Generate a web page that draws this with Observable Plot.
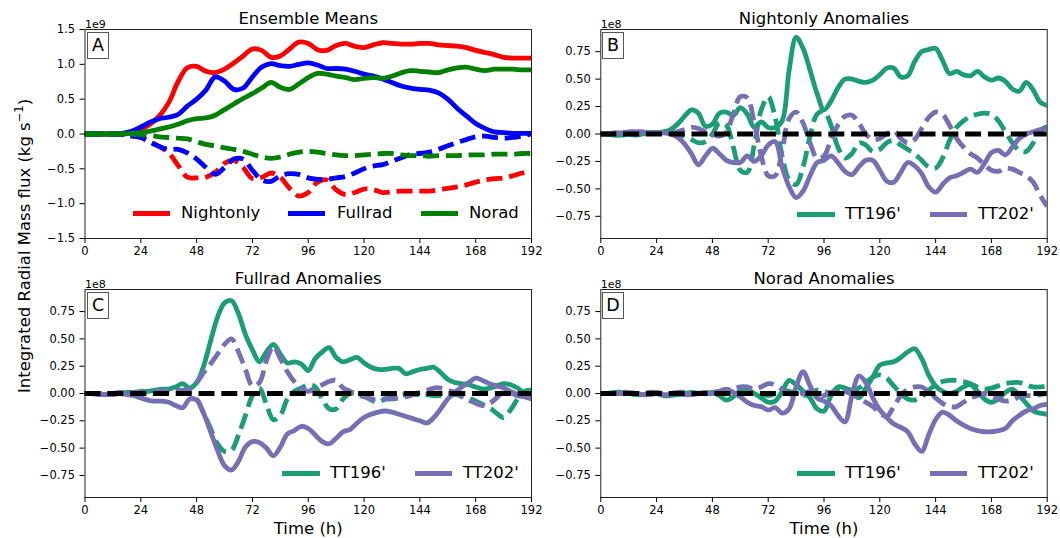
<!DOCTYPE html>
<html><head><meta charset="utf-8">
<script src="https://cdn.jsdelivr.net/npm/d3@7"></script>
<script src="https://cdn.jsdelivr.net/npm/@observablehq/plot@0.6"></script>
<style>
body{margin:0;background:#fff;font-family:"DejaVu Sans",sans-serif;color:#000;}
#fig{position:relative;width:1060px;height:538px;overflow:hidden;background:#fff;}
.box{position:absolute;width:20px;height:25px;border:1px solid #555;background:#fff;font-size:17.5px;line-height:25px;text-align:center;}
.lgline{position:absolute;height:5px;}
.lgtext{position:absolute;font-size:16.5px;line-height:20px;white-space:nowrap;}
#ylab{position:absolute;left:23px;top:246px;transform:translate(-50%,-50%) rotate(-90deg);font-size:16.5px;white-space:nowrap;}
#ylab sup{font-size:11.5px;}
</style></head>
<body><div id="fig"></div>
<script>
// ---------- data ----------
const xTicks = [0, 24, 48, 72, 96, 120, 144, 168, 192];
const ticksA = [-1.5, -1.0, -0.5, 0.0, 0.5, 1.0, 1.5];
const ticksAnom = [-0.75, -0.5, -0.25, 0, 0.25, 0.5, 0.75];

// Panel A (units of 1e9), every 4 h
const hoursA = d3.range(0, 193, 4);
const nightSolid = [0,0,0,0,0,0.02,0.07,0.14, 0.26,0.45,0.75,0.95,0.97,0.90,0.88,0.93, 1.02,1.12,1.22,1.20,1.10,1.12,1.22,1.32, 1.30,1.21,1.20,1.27,1.30,1.26,1.24,1.28, 1.31,1.30,1.29,1.29,1.30,1.30,1.28,1.27, 1.26,1.24,1.20,1.17,1.14,1.10,1.09,1.09, 1.09];
const fullSolid = [0,0,0,0,0.01,0.04,0.10,0.17, 0.22,0.24,0.28,0.40,0.50,0.63,0.82,0.76, 0.64,0.66,0.82,0.96,1.01,0.98,0.97,1.00, 1.02,0.99,0.94,0.94,0.93,0.90,0.86,0.83, 0.79,0.74,0.69,0.66,0.64,0.63,0.59,0.50, 0.37,0.26,0.15,0.08,0.03,0.02,0.01,0.01, 0.01];
const noradSolid = [0,0,0,0,0,0.01,0.02,0.04, 0.07,0.10,0.14,0.19,0.22,0.23,0.27,0.35, 0.43,0.51,0.58,0.66,0.74,0.67,0.64,0.72, 0.81,0.87,0.86,0.83,0.81,0.78,0.80,0.81, 0.80,0.83,0.88,0.91,0.90,0.89,0.88,0.92, 0.95,0.96,0.93,0.91,0.93,0.93,0.93,0.92, 0.92];
const nightDash = [0,0,0,0,-0.01,-0.02,-0.05,-0.11, -0.18,-0.27,-0.45,-0.62,-0.63,-0.62,-0.55,-0.42, -0.38,-0.48,-0.64,-0.62,-0.56,-0.62,-0.78,-0.89, -0.84,-0.69,-0.66,-0.80,-0.87,-0.84,-0.79,-0.80, -0.84,-0.83,-0.82,-0.82,-0.82,-0.82,-0.80,-0.78, -0.76,-0.73,-0.69,-0.66,-0.64,-0.63,-0.60,-0.56, -0.54];
const fullDash = [0,0,0,0,-0.01,-0.03,-0.05,-0.12, -0.18,-0.22,-0.22,-0.27,-0.36,-0.48,-0.58,-0.48, -0.36,-0.36,-0.52,-0.66,-0.68,-0.60,-0.57,-0.58, -0.63,-0.65,-0.65,-0.63,-0.61,-0.56,-0.50,-0.46, -0.44,-0.39,-0.34,-0.29,-0.28,-0.26,-0.22,-0.17, -0.12,-0.08,-0.04,-0.03,-0.05,-0.06,-0.05,-0.03, 0];
const noradDash = [0,0,0,0,0,0,-0.01,-0.02, -0.04,-0.05,-0.06,-0.07,-0.11,-0.15,-0.17,-0.20, -0.22,-0.25,-0.29,-0.33,-0.35,-0.33,-0.29,-0.26, -0.25,-0.26,-0.28,-0.30,-0.31,-0.31,-0.30,-0.29, -0.28,-0.28,-0.30,-0.31,-0.31,-0.32,-0.31,-0.31, -0.31,-0.30,-0.30,-0.30,-0.29,-0.29,-0.29,-0.28, -0.28];

// Anomaly panels (units of 1e8), every 3 h
const hoursB = d3.range(0, 193, 3);
const bGreenSolid = [0,0,-0.01,-0.01,0,-0.01,0,0.01, 0.01,0.02,0.04,0.09,0.16,0.22,0.19,0.07, 0.09,0.19,0.20,0.17,0.24,0.18,0.06,0.11, 0.06,0.06,0.12,0.58,0.88,0.78,0.58,0.37, 0.22,0.30,0.42,0.50,0.50,0.48,0.47,0.49, 0.54,0.60,0.60,0.52,0.53,0.66,0.75,0.77, 0.78,0.67,0.55,0.57,0.54,0.53,0.57,0.52, 0.49,0.51,0.48,0.41,0.39,0.47,0.40,0.29, 0.26];
const bPurpleSolid = [0,0,0.01,0.01,0.02,0.02,0.02,0.01, 0.01,0.01,0,-0.03,-0.09,-0.18,-0.28,-0.20, -0.13,-0.18,-0.24,-0.26,-0.26,-0.20,-0.25,-0.20, -0.10,-0.07,-0.30,-0.48,-0.58,-0.52,-0.38,-0.26, -0.24,-0.20,-0.26,-0.34,-0.37,-0.30,-0.24,-0.24, -0.33,-0.43,-0.44,-0.35,-0.26,-0.29,-0.36,-0.48, -0.53,-0.46,-0.40,-0.38,-0.35,-0.32,-0.35,-0.27, -0.17,-0.15,-0.19,-0.12,-0.04,0.0,0.02,0.04, 0.05];
const bGreenDash = [0,0,0,0,0.01,0.01,0.01,0.01, 0.01,0.01,0.01,0,-0.02,-0.05,-0.08,-0.07, 0.0,0.10,0.08,-0.12,-0.33,-0.35,-0.10,0.22, 0.34,0.15,-0.20,-0.42,-0.46,-0.30,-0.02,0.18, 0.21,0.08,-0.12,-0.22,-0.18,-0.08,-0.10,-0.16, -0.14,-0.08,-0.06,-0.10,-0.14,-0.18,-0.24,-0.30, -0.31,-0.22,-0.06,0.06,0.12,0.16,0.18,0.19, 0.18,0.12,0.02,-0.08,-0.15,-0.16,-0.08,0.03, 0.07];
const bPurpleDash = [0,0,0.01,0.01,0.01,0.01,0.01,0.01, 0.01,0.01,0.01,0.02,0.04,0.06,0.05,0.02, 0.0,-0.02,0.02,0.18,0.34,0.33,0.10,-0.20, -0.38,-0.38,-0.15,0.14,0.20,0.10,-0.08,-0.22, -0.20,-0.05,0.08,0.16,0.17,0.10,0.0,-0.05, -0.04,0.0,0.03,-0.04,-0.08,-0.05,0.05,0.15, 0.20,0.18,0.08,-0.04,-0.12,-0.18,-0.22,-0.28, -0.33,-0.34,-0.31,-0.32,-0.35,-0.38,-0.44,-0.56, -0.66];

const cGreenSolid = [0,0,0,-0.01,0,0,0.01,0.01, 0.02,0.02,0.03,0.04,0.04,0.06,0.09,0.05, 0.10,0.25,0.48,0.70,0.83,0.85,0.73,0.54, 0.40,0.29,0.38,0.45,0.36,0.28,0.29,0.27, 0.21,0.32,0.38,0.42,0.33,0.29,0.31,0.33, 0.28,0.24,0.22,0.22,0.23,0.23,0.18,0.20, 0.22,0.23,0.24,0.19,0.13,0.10,0.09,0.08, 0.06,0.04,0.05,0.07,0.09,0.08,0.05,0.0, -0.02];
const cPurpleSolid = [0,0,-0.01,-0.01,-0.01,0,-0.01,-0.02, -0.04,-0.06,-0.07,-0.07,-0.08,-0.11,-0.13,-0.05, -0.06,-0.18,-0.35,-0.52,-0.66,-0.70,-0.62,-0.49, -0.44,-0.45,-0.50,-0.57,-0.49,-0.37,-0.34,-0.30, -0.32,-0.38,-0.44,-0.46,-0.41,-0.35,-0.33,-0.27, -0.22,-0.19,-0.17,-0.16,-0.17,-0.19,-0.21,-0.23, -0.25,-0.27,-0.22,-0.14,-0.05,0.01,0.06,0.10, 0.14,0.12,0.09,0.07,0.05,0.02,-0.01,-0.03, -0.05];
const cGreenDash = [0,0,0,0,0,0,0,0, 0,0,0.01,0.01,0.01,0.01,0.02,0.0, -0.05,-0.18,-0.32,-0.46,-0.53,-0.52,-0.38,-0.20, -0.02,0.05,-0.10,-0.24,-0.20,-0.05,0.02,0.05, 0.08,0.06,-0.05,-0.14,-0.14,-0.05,0.0,0.0, -0.02,-0.06,-0.08,-0.05,-0.02,-0.02,-0.01,-0.01, -0.01,-0.01,-0.02,-0.02,-0.02,-0.01,-0.02,-0.04, -0.07,-0.10,-0.13,-0.18,-0.22,-0.15,-0.05,0.02, 0.03];
const cPurpleDash = [0,0,0,0,0,0.01,0.01,0.01, 0.01,0.01,0.02,0.02,0.03,0.03,0.03,0.04, 0.10,0.19,0.27,0.36,0.45,0.50,0.38,0.22, 0.07,0.10,0.30,0.43,0.32,0.20,0.11,0.05, 0.02,0.05,0.08,0.11,0.12,0.05,0.02,-0.01, -0.03,-0.05,-0.05,-0.05,-0.05,-0.04,-0.03,-0.01, 0.01,0.03,0.05,0.05,0.03,0.01,-0.03,-0.06, -0.09,-0.11,-0.09,-0.04,0.02,0.01,-0.02,-0.03, -0.04];

const dGreenSolid = [0,0,0.01,0.01,0,-0.01,-0.01,0, 0,-0.02,-0.02,-0.01,0,0.01,0,0, 0.01,-0.02,-0.06,-0.03,0.03,0.02,0,-0.04, -0.08,-0.07,0.02,0.12,0.08,0.02,-0.04,-0.14, -0.16,-0.02,0.06,0.05,0.02,-0.04,0.05,0.15, 0.26,0.28,0.29,0.33,0.38,0.41,0.32,0.17, 0.07,0.02,0.0,0.02,0.06,0.08,0.02,-0.05, -0.08,-0.05,0.01,0.04,-0.02,-0.09,-0.16,-0.18, -0.19];
const dPurpleSolid = [0,0,0,0,0,0,-0.01,-0.01, 0,-0.01,-0.01,0,-0.01,-0.01,0,0, 0,0.02,0.04,0.01,-0.03,-0.08,-0.11,-0.12, -0.15,-0.13,-0.18,-0.14,0.06,0.20,0.07,-0.04, -0.07,-0.11,-0.20,-0.26,-0.02,0.16,0.10,-0.04, -0.15,-0.22,-0.28,-0.31,-0.35,-0.46,-0.53,-0.38, -0.24,-0.17,-0.20,-0.25,-0.29,-0.32,-0.34,-0.35, -0.35,-0.34,-0.32,-0.25,-0.20,-0.16,-0.14,-0.11, -0.10];
const dGreenDash = [0,0,0,0,0,0,0,0, 0,0,0,0,0,0,0,0, 0,0,0,0,0.01,0.02,0.01,0, -0.02,0,0.03,0.02,0,-0.02,0,0.03, 0.02,0,0.02,0.04,0.03,0.05,0.10,0.15, 0.17,0.14,0.07,0.0,-0.05,-0.06,-0.03,0.03, 0.08,0.11,0.12,0.12,0.11,0.09,0.06,0.04, 0.05,0.07,0.09,0.10,0.10,0.08,0.06,0.06, 0.07];
const dPurpleDash = [0,0,0,0.01,0.01,0,0,0.01, 0.01,0,0,0.01,0.01,0,0,0.01, 0.01,0.02,0.03,0.04,0.06,0.06,0.04,0.06, 0.09,0.08,0.04,0.0,-0.02,0.0,0.02,0.0, -0.02,0.01,0.03,0.02,-0.01,-0.04,-0.08,-0.12, -0.18,-0.21,-0.12,-0.02,0.04,0.06,0.06,0.02, -0.04,-0.09,-0.12,-0.12,-0.08,-0.04,-0.02,0.0, -0.02,-0.05,-0.07,-0.06,-0.03,-0.02,-0.02,-0.01, 0.0];

const legendA = ["Nightonly", "Fullrad", "Norad"];
const legendAnom = ["TT196'", "TT202'"];
const titles = ["Ensemble Means", "Nightonly Anomalies", "Fullrad Anomalies", "Norad Anomalies"];
const letters = ["A", "B", "C", "D"];

// ---------- styles ----------
const RED = "#ff0000", BLUE = "#0000ff", GREEN = "#008000", TEAL = "#1b9e77", PURPLE = "#7570b3";
const LW = 4.8;
const DASH = "16,6.8";

function rows(hours, vals) { return hours.map((h, i) => ({h, v: vals[i]})); }

const fig = document.getElementById("fig");

function panel(cfg) {
  const marks = [];
  for (const s of cfg.series) {
    marks.push(Plot.line(rows(cfg.hours, s.vals), {
      x: "h", y: "v", stroke: s.color, strokeWidth: LW,
      strokeDasharray: s.dash ? DASH : null,
      strokeLinecap: s.dash ? "butt" : "square",
      strokeLinejoin: "round",
      curve: "catmull-rom", clip: true
    }));
  }
  if (cfg.zero) marks.push(Plot.ruleY([0], {stroke: "black", strokeWidth: LW, strokeDasharray: DASH}));
  marks.push(Plot.frame({stroke: "#222", strokeWidth: 1}));
  marks.push(Plot.axisX({ticks: xTicks, tickSize: 5, tickPadding: 3, label: null, tickFormat: d3.format("d")}));
  marks.push(Plot.axisY({ticks: cfg.yTicks, tickSize: 5, tickPadding: 5, label: null, tickFormat: d3.format(cfg.fmt)}));
  marks.push(Plot.text([cfg.title], {text: d => d, frameAnchor: "top", dy: -6, lineAnchor: "bottom", fontSize: 16.5}));
  marks.push(Plot.text([cfg.expo], {text: d => d, frameAnchor: "top-left", dy: -2, lineAnchor: "bottom", textAnchor: "start", fontSize: 11}));
  if (cfg.time) marks.push(Plot.text(["Time (h)"], {text: d => d, frameAnchor: "bottom", dy: 36, lineAnchor: "bottom", fontSize: 16.5}));
  const svg = Plot.plot({
    width: cfg.w, height: cfg.h,
    marginLeft: cfg.mL, marginRight: cfg.mR, marginTop: cfg.mT, marginBottom: cfg.mB,
    style: {fontFamily: "DejaVu Sans", fontSize: "11.5px", color: "black", background: "transparent", overflow: "visible"},
    x: {domain: [0, 192]},
    y: {domain: cfg.yDomain},
    marks
  });
  svg.style.position = "absolute";
  svg.style.left = cfg.left + "px";
  svg.style.top = cfg.top + "px";
  svg.style.maxWidth = "none";
  fig.appendChild(svg);
}

const anomDomain = [-0.952, 0.952];

panel({left: 0, top: 0, w: 540, h: 265, mL: 84.5, mR: 9, mT: 29, mB: 27,
  hours: hoursA, yDomain: [-1.5, 1.5], yTicks: ticksA, fmt: ".1f", title: titles[0], expo: "1e9", zero: false,
  series: [
    {vals: nightSolid, color: RED}, {vals: nightDash, color: RED, dash: true},
    {vals: fullSolid, color: BLUE}, {vals: fullDash, color: BLUE, dash: true},
    {vals: noradSolid, color: GREEN}, {vals: noradDash, color: GREEN, dash: true}
  ]});
panel({left: 520, top: 0, w: 540, h: 265, mL: 80.3, mR: 13.3, mT: 29, mB: 27,
  hours: hoursB, yDomain: anomDomain, yTicks: ticksAnom, fmt: ".2f", title: titles[1], expo: "1e8", zero: true,
  series: [
    {vals: bGreenSolid, color: TEAL}, {vals: bGreenDash, color: TEAL, dash: true},
    {vals: bPurpleSolid, color: PURPLE}, {vals: bPurpleDash, color: PURPLE, dash: true}
  ]});
panel({left: 0, top: 260, w: 540, h: 278, mL: 84.5, mR: 9, mT: 29, mB: 41,
  hours: hoursB, yDomain: anomDomain, yTicks: ticksAnom, fmt: ".2f", title: titles[2], expo: "1e8", zero: true, time: true,
  series: [
    {vals: cGreenSolid, color: TEAL}, {vals: cGreenDash, color: TEAL, dash: true},
    {vals: cPurpleSolid, color: PURPLE}, {vals: cPurpleDash, color: PURPLE, dash: true}
  ]});
panel({left: 520, top: 260, w: 540, h: 278, mL: 80.3, mR: 13.3, mT: 29, mB: 41,
  hours: hoursB, yDomain: anomDomain, yTicks: ticksAnom, fmt: ".2f", title: titles[3], expo: "1e8", zero: true, time: true,
  series: [
    {vals: dGreenSolid, color: TEAL}, {vals: dGreenDash, color: TEAL, dash: true},
    {vals: dPurpleSolid, color: PURPLE}, {vals: dPurpleDash, color: PURPLE, dash: true}
  ]});

// ---------- overlays: letter boxes, legends, y label ----------
function box(letter, x, y) {
  const d = document.createElement("div");
  d.className = "box"; d.textContent = letter;
  d.style.left = x + "px"; d.style.top = y + "px";
  fig.appendChild(d);
}
box(letters[0], 87, 32); box(letters[1], 602, 32); box(letters[2], 87, 292); box(letters[3], 602, 292);

function legendItem(label, color, x1, x2, tx, y) {
  const l = document.createElement("div");
  l.className = "lgline"; l.style.background = color;
  l.style.left = x1 + "px"; l.style.width = (x2 - x1) + "px"; l.style.top = (y - 2.5) + "px";
  fig.appendChild(l);
  const t = document.createElement("div");
  t.className = "lgtext"; t.textContent = label;
  t.style.left = tx + "px"; t.style.top = (y - 10) + "px";
  fig.appendChild(t);
}
legendItem(legendA[0], RED, 133, 170, 181, 213);
legendItem(legendA[1], BLUE, 288, 325, 337, 213);
legendItem(legendA[2], GREEN, 421, 458, 469, 213);
legendItem(legendAnom[0], TEAL, 797, 835, 845, 214);
legendItem(legendAnom[1], PURPLE, 930, 967, 978, 214);
legendItem(legendAnom[0], TEAL, 282, 320, 330, 473);
legendItem(legendAnom[1], PURPLE, 415, 452, 463, 473);
legendItem(legendAnom[0], TEAL, 797, 835, 845, 473);
legendItem(legendAnom[1], PURPLE, 930, 967, 978, 473);

const yl = document.createElement("div");
yl.id = "ylab";
yl.innerHTML = "Integrated Radial Mass flux (kg s<sup>\u22121</sup>)";
fig.appendChild(yl);
</script>
</body></html>
